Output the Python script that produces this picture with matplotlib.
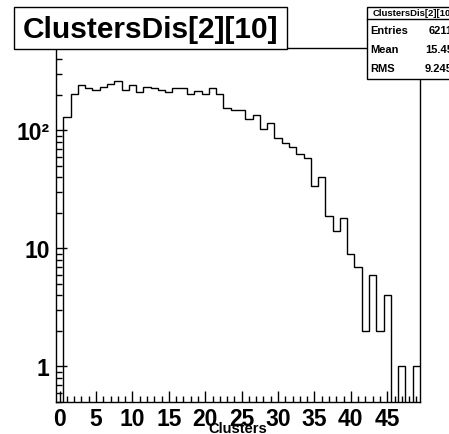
import matplotlib.pyplot as plt
import matplotlib.ticker as mticker
import numpy as np
from matplotlib.patches import Rectangle

# histogram content, bins of width 1 centred on 0..49
bin_centers = np.arange(50)
counts = [0, 130, 205, 245, 228, 222, 235, 248, 262, 222,
          243, 213, 235, 228, 220, 212, 228, 228, 204, 217,
          203, 231, 203, 156, 149, 149, 124, 135, 103, 116,
          86, 79, 73, 63, 58, 34, 40, 19, 14, 18,
          9, 7, 2, 6, 2, 4, 0, 1, 0, 1]
title = "ClustersDis[2][10]"
x_label = "Clusters"
stats_names = ["Entries", "Mean", "RMS"]
stats_values = ["6211", "15.45", "9.245"]
y_tick_vals = [1, 10, 100]
y_tick_text = ["1", "10", "10\u00b2"]

W, H = 449, 435
fig = plt.figure(figsize=(W / 100, H / 100), dpi=100)
fig.patch.set_facecolor("white")
plt.rcParams["font.family"] = ["Liberation Sans", "DejaVu Sans"]


def fx(px):
    return px / W


def fy(py):
    # pixel measured from the top of the picture
    return 1 - py / H


left, right, top, bottom = 56, 420, 49, 403
ax = fig.add_axes([fx(left), fy(bottom), fx(right - left), fy(top) - fy(bottom)])

edges = np.append(bin_centers - 0.5, bin_centers[-1] + 0.5)
ymin, ymax = 0.5, 500
vals = np.array(counts, dtype=float)
draw_vals = np.where(vals > 0, vals, ymin * 0.01)
ax.stairs(draw_vals, edges, color="black", lw=1.0, baseline=None)

ax.set_yscale("log")
ax.set_xlim(edges[0], edges[-1])
ax.set_ylim(ymin, ymax)

for s in ax.spines.values():
    s.set_color("black")
    s.set_linewidth(1.0)

ax.xaxis.set_major_locator(mticker.FixedLocator(np.arange(0, 50, 5)))
ax.xaxis.set_minor_locator(mticker.FixedLocator(np.arange(0, 50, 1)))
ax.yaxis.set_major_locator(mticker.FixedLocator(y_tick_vals))
ax.yaxis.set_major_formatter(mticker.FixedFormatter(y_tick_text))
ax.yaxis.set_minor_locator(mticker.LogLocator(base=10, subs=np.arange(2, 10)))
ax.yaxis.set_minor_formatter(mticker.NullFormatter())

ax.tick_params(axis="both", which="major", direction="in", length=8, width=1,
               labelsize=16.5, color="black")
ax.tick_params(axis="both", which="minor", direction="in", length=4, width=1,
               color="black")
ax.tick_params(axis="x", which="major", pad=3.5)
ax.tick_params(axis="y", which="major", pad=4.5)
for lab in ax.get_xticklabels() + ax.get_yticklabels():
    lab.set_fontweight("bold")

fig.text(fx(238), fy(429), x_label, ha="center", va="center",
         fontsize=10.5, fontweight="bold")

# title box
fig.patches.append(Rectangle((fx(14), fy(50)), fx(287 - 14), fy(8) - fy(50),
                             transform=fig.transFigure, facecolor="white",
                             edgecolor="black", lw=1.0, zorder=5))
fig.text(fx(150), fy(30), title, ha="center", va="center",
         fontsize=21.5, fontweight="bold", zorder=6)

# stats box, cut by the right edge of the picture
fig.patches.append(Rectangle((fx(367), fy(80)), fx(465 - 367), fy(8) - fy(80),
                             transform=fig.transFigure, facecolor="white",
                             edgecolor="black", lw=1.0, zorder=5))
fig.lines.append(plt.Line2D([fx(367), fx(465)], [fy(20), fy(20)],
                            transform=fig.transFigure, color="black", lw=1.0, zorder=6))
fig.text(fx(413), fy(14), title, ha="center", va="center",
         fontsize=6.8, fontweight="bold", zorder=6)
for i, (name, val) in enumerate(zip(stats_names, stats_values)):
    yy = 31 + 19 * i
    fig.text(fx(370), fy(yy), name, ha="left", va="center",
             fontsize=8, fontweight="bold", zorder=6)
    fig.text(fx(453), fy(yy), val, ha="right", va="center",
             fontsize=8, fontweight="bold", zorder=6)

fig.savefig("out.png", dpi=100)
